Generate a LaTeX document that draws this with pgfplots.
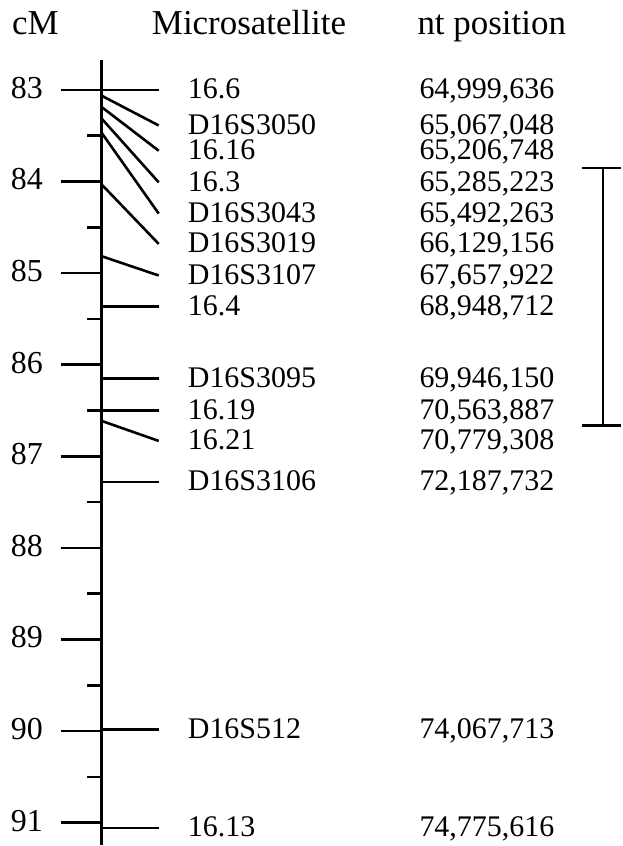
\documentclass[border=0pt]{standalone}
\usepackage{fontspec}
\setmainfont{Liberation Serif}
\usepackage{pgfplots}
\pgfplotsset{compat=1.18}
\newcommand{\mk}[4]{%
  \addplot[black, line width=2.6pt, line cap=butt] coordinates {(0,#1) (57,#2)};
  \node[lbl] at (axis cs:86,#2) {#3};
  \node[lbl] at (axis cs:318,#2) {#4};
}
\begin{document}
\begin{tikzpicture}[
  lbl/.style={anchor=base west, inner sep=0pt, yshift=-9pt, font=\fontsize{30}{30}\selectfont},
  hdr/.style={anchor=base west, inner sep=0pt, font=\fontsize{35}{35}\selectfont}]
\begin{axis}[
  scale only axis, width=520pt, height=786pt,
  xmin=0, xmax=520, ymin=82.673, ymax=91.24, y dir=reverse,
  axis x line=none, axis y line=left,
  y axis line style={-, black, line width=2.8pt, line cap=butt},
  ytick={83,84,...,91}, minor ytick={83.5,84.5,...,90.5},
  tick align=outside, major tick length=41pt, minor tick length=15pt,
  tick style={black, line width=2.6pt},
  minor tick style={black, line width=2.6pt},
  yticklabel style={font=\fontsize{32}{32}\selectfont, anchor=east, inner sep=0pt, xshift=-18pt, yshift=2pt},
  /pgf/number format/assume math mode=true,
  clip=false,
]
\path (axis cs:-102,82.019) rectangle (axis cs:520,91.24);
\node[hdr] at (axis cs:-90,82.4005) {cM};
\node[hdr] at (axis cs:50,82.4005) {Microsatellite};
\node[hdr] at (axis cs:316,82.4005) {nt position};
\mk{83.000}{83.000}{16.6}{64,999,636}
\mk{83.065}{83.389}{D16S3050}{65,067,048}
\mk{83.189}{83.665}{16.16}{65,206,748}
\mk{83.316}{84.010}{16.3}{65,285,223}
\mk{83.472}{84.351}{D16S3043}{65,492,263}
\mk{84.035}{84.682}{D16S3019}{66,129,156}
\mk{84.817}{85.027}{D16S3107}{67,657,922}
\mk{85.368}{85.368}{16.4}{68,948,712}
\mk{86.153}{86.153}{D16S3095}{69,946,150}
\mk{86.499}{86.499}{16.19}{70,563,887}
\mk{86.615}{86.833}{16.21}{70,779,308}
\mk{87.280}{87.280}{D16S3106}{72,187,732}
\mk{89.983}{89.983}{D16S512}{74,067,713}
\mk{91.058}{91.058}{16.13}{74,775,616}
% bracket
\addplot[black, line width=2.6pt, line cap=butt] coordinates {(481,83.853) (520,83.853)};
\addplot[black, line width=2.6pt, line cap=butt] coordinates {(502,83.853) (502,86.662)};
\addplot[black, line width=2.6pt, line cap=butt] coordinates {(481,86.662) (520,86.662)};
\end{axis}
\end{tikzpicture}
\end{document}
